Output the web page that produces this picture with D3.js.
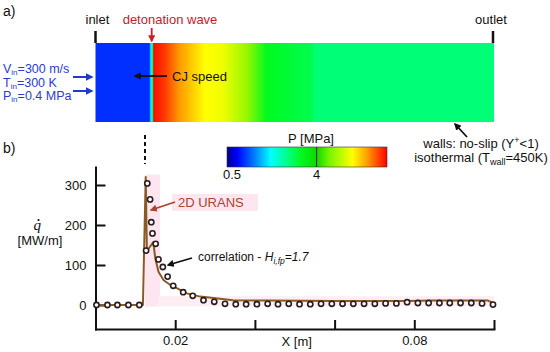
<!DOCTYPE html>
<html>
<head>
<meta charset="utf-8">
<script src="https://cdn.jsdelivr.net/npm/d3@7.9.0/dist/d3.min.js"></script>
<style>
  body { margin: 0; background: #fff; }
  svg { display: block; font-family: "Liberation Sans", Arial, sans-serif; }
</style>
</head>
<body>
<svg id="chart" width="550" height="352"></svg>
<script>
// 2D URANS heat flux along the wall (x in m, q in MW/m)
const uransX = [0.00025, 0.0119, 0.0126, 0.0129, 0.0145, 0.015, 0.0158, 0.0171, 0.0188, 0.0204,
  0.0229, 0.0263, 0.0345, 0.043, 0.06, 0.078, 0.085, 0.0985, 0.09975];
const uransQ = [0, 0, 320, 135, 157, 117, 83, 62, 50, 42, 29, 21, 12, 11, 10, 10, 11, 11, 5];

// correlation points, H_i,fp = 1.7
const corrX = [0.00025, 0.003, 0.0055, 0.00825, 0.011, 0.0127, 0.013, 0.0137, 0.014, 0.0143,
  0.0151, 0.0158, 0.0169, 0.0181, 0.0195, 0.022, 0.0244, 0.0271, 0.0298, 0.0325,
  0.0352, 0.0378, 0.0405, 0.0432, 0.0458, 0.0485, 0.0512, 0.0539, 0.0566, 0.0593,
  0.062, 0.0647, 0.0674, 0.0701, 0.0728, 0.0755, 0.0782, 0.0809, 0.0836, 0.0863,
  0.0889, 0.0916, 0.0943, 0.097, 0.09975];
const corrQ = [0, 0, 0, 0, 0, 136, 304, 264, 207, 179,
  153, 114, 95, 71, 48, 32, 23, 12, 8, 3,
  2, 2, 2, 3, 2, 3, 2, 2, 3, 3,
  3, 3, 3, 3, 4, 4, 7, 5, 5, 5,
  5, 5, 5, 4, 1];

const xTicks = [0.02, 0.04, 0.06, 0.08, 0.1];
const xLabelled = [0.02, 0.08];
const yTicks = [0, 100, 200, 300];

// pressure along the channel in panel a) (x in m, P in MPa)
const fieldX = [0, 0.0135, 0.0139, 0.0143, 0.0146, 0.0175, 0.021, 0.0275, 0.032, 0.038, 0.043, 0.0545, 0.0548, 0.1];
const fieldP = [1.15, 1.15, 2.2, 3.0, 6.7, 6.45, 6.0, 5.4, 5.3, 4.7, 3.4, 3.15, 2.95, 2.95];

// colour bar P [MPa]
const cbP = [0.5, 0.9, 1.5, 2.2, 2.9, 3.4, 4.0, 4.5, 5.4, 6.0, 6.75];
const cbColors = ['#00008a', '#0000ff', '#0070ff', '#00ffff', '#00ff80', '#00fa20',
  '#10d800', '#78f500', '#ffff00', '#ff9900', '#ff0000'];
const cbTicks = [0.5, 4];

const svg = d3.select('#chart');
const defs = svg.append('defs');

const x = d3.scaleLinear().domain([0, 0.1]).range([95.5, 494]);
const y = d3.scaleLinear().domain([-60, 345]).range([329, 167]);
const pColor = d3.scaleLinear().domain(cbP).range(cbColors).clamp(true);
const cb = d3.scaleLinear().domain([0.5, 6.75]).range([227, 387]);

// arrow heads
function headMarker(id, color) {
    defs.append('marker')
        .attr('id', id)
        .attr('viewBox', '0 0 10 10')
        .attr('refX', 8).attr('refY', 5)
        .attr('markerWidth', 4).attr('markerHeight', 4)
        .attr('orient', 'auto')
        .append('path').attr('d', 'M0,0L10,5L0,10z').attr('fill', color);
}
headMarker('ah-k', '#111');
headMarker('ah-b', '#1f3ccf');
headMarker('ah-r', '#c8202a');
headMarker('ah-br', '#a8452e');

function arrow(x1, y1, x2, y2, color, id, w) {
    svg.append('line')
        .attr('x1', x1).attr('y1', y1).attr('x2', x2).attr('y2', y2)
        .attr('stroke', color).attr('stroke-width', w || 1.8)
        .attr('marker-end', `url(#${id})`);
}

function label(tx, ty, str, opts = {}) {
    return svg.append('text')
        .attr('x', tx).attr('y', ty)
        .attr('font-size', opts.size || 13)
        .attr('fill', opts.color || '#111')
        .attr('text-anchor', opts.anchor || 'start')
        .text(str);
}

// ---------- panel a) ----------
label(3, 16, 'a)', { size: 14 });

let fieldGrad = defs.append('linearGradient').attr('id', 'field')
    .attr('gradientUnits', 'userSpaceOnUse')
    .attr('x1', x(0)).attr('x2', x(0.1)).attr('y1', 0).attr('y2', 0);
fieldX.forEach((fx, i) => {
    fieldGrad.append('stop')
        .attr('offset', fx / 0.1)
        .attr('stop-color', pColor(fieldP[i]));
});
svg.append('rect')
    .attr('x', x(0)).attr('y', 43)
    .attr('width', x(0.1) - x(0)).attr('height', 79)
    .attr('fill', 'url(#field)');

// inlet / outlet markers
label(x(0) - 10, 24, 'inlet');
svg.append('line').attr('x1', x(0)).attr('x2', x(0)).attr('y1', 31).attr('y2', 43)
    .attr('stroke', '#111').attr('stroke-width', 2.5);
label(x(0.1) - 3, 24, 'outlet', { anchor: 'middle' });
svg.append('line').attr('x1', x(0.1) - 1).attr('x2', x(0.1) - 1).attr('y1', 31).attr('y2', 43)
    .attr('stroke', '#111').attr('stroke-width', 2.5);

// detonation wave
label(170, 24, 'detonation wave', { anchor: 'middle', color: '#c8202a' });
arrow(151.7, 28, 151.7, 41, '#c8202a', 'ah-r', 1.8);

// CJ speed
label(172, 81, 'CJ speed');
arrow(167, 76, 135, 76, '#111', 'ah-k', 1.8);

// inflow conditions
const inflow = [['V', '=300 m/s', 73], ['T', '=300 K', 86.5], ['P', '=0.4 MPa', 100]];
inflow.forEach(([sym, rest, by]) => {
    const t = svg.append('text').attr('x', 3).attr('y', by)
        .attr('font-size', 12.5).attr('fill', '#2a3bd1');
    t.append('tspan').text(sym);
    t.append('tspan').attr('font-size', 8).attr('dy', 2).text('in');
    t.append('tspan').attr('dy', -2).text(rest);
});
arrow(73, 77, 92, 77, '#1f3ccf', 'ah-b', 2);
arrow(73, 91, 92, 91, '#1f3ccf', 'ah-b', 2);

// walls note
arrow(467, 137, 455, 124, '#111', 'ah-k', 1.8);
const w1 = svg.append('text').attr('x', 481).attr('y', 148).attr('font-size', 13)
    .attr('text-anchor', 'middle').attr('fill', '#111');
w1.append('tspan').text('walls: no-slip (Y');
w1.append('tspan').attr('font-size', 9).attr('dy', -5).text('+');
w1.append('tspan').attr('dy', 5).text('<1)');
const w2 = svg.append('text').attr('x', 481).attr('y', 162).attr('font-size', 13)
    .attr('text-anchor', 'middle').attr('fill', '#111');
w2.append('tspan').text('isothermal (T');
w2.append('tspan').attr('font-size', 9).attr('dy', 3).text('wall');
w2.append('tspan').attr('dy', -3).text('=450K)');

// colour bar
let cbGrad = defs.append('linearGradient').attr('id', 'cbar');
cbP.forEach((p, i) => {
    cbGrad.append('stop')
        .attr('offset', (cb(p) - cb.range()[0]) / (cb.range()[1] - cb.range()[0]))
        .attr('stop-color', cbColors[i]);
});
svg.append('rect')
    .attr('x', cb.range()[0]).attr('y', 147)
    .attr('width', cb.range()[1] - cb.range()[0]).attr('height', 20)
    .attr('fill', 'url(#cbar)').attr('stroke', '#333').attr('stroke-width', 0.6);
svg.append('line').attr('x1', cb(4)).attr('x2', cb(4)).attr('y1', 147).attr('y2', 167)
    .attr('stroke', '#222').attr('stroke-width', 1);
label(311, 143, 'P [MPa]', { anchor: 'middle' });
cbTicks.forEach((v) => {
    label(cb(v) + (v === 0.5 ? 5 : 0), 179, String(v), { anchor: 'middle' });
});

// ---------- panel b) ----------
label(3, 153, 'b)', { size: 14 });

// pink highlights behind the URANS curve
svg.append('rect')
    .attr('x', x(0.0124)).attr('y', y(326))
    .attr('width', x(0.0162) - x(0.0124)).attr('height', y(-4) - y(326))
    .attr('fill', '#fde6ef');
svg.append('rect')
    .attr('x', x(0.0158)).attr('y', y(22))
    .attr('width', x(0.1) - x(0.0158)).attr('height', y(-3) - y(22))
    .attr('fill', '#fdeef4');
svg.append('rect').attr('x', 172).attr('y', 194).attr('width', 86).attr('height', 17)
    .attr('fill', '#fde6ef');

// dashed wave position
svg.append('line').attr('x1', 145).attr('x2', 145).attr('y1', 135).attr('y2', 164)
    .attr('stroke', '#111').attr('stroke-width', 2).attr('stroke-dasharray', '4,3');

// axes
const yAxis = svg.append('g').attr('transform', `translate(${x(0)},0)`)
    .call(d3.axisLeft(y).tickValues(yTicks).tickSize(-10).tickSizeOuter(0).tickPadding(9));
const xAxis = svg.append('g').attr('transform', `translate(0,${y(-60)})`)
    .call(d3.axisBottom(x).tickValues(xTicks).tickSize(-9).tickSizeOuter(0).tickPadding(7)
        .tickFormat((d) => (xLabelled.includes(d) ? String(d) : '')));
[yAxis, xAxis].forEach((g) => {
    g.attr('font-family', null).attr('font-size', null);
    g.select('.domain').attr('stroke', '#111').attr('stroke-width', 2).attr('stroke-linecap', 'square');
    g.selectAll('.tick line').attr('stroke', '#111').attr('stroke-width', 2);
    g.selectAll('.tick text').attr('font-size', 13).attr('fill', '#111');
});
label(x(0.0505), 346, 'X [m]', { anchor: 'middle' });

// y label q-dot
svg.append('text').attr('x', 33.5).attr('y', 230)
    .attr('font-family', '"Liberation Serif", serif').attr('font-style', 'italic')
    .attr('font-size', 15).attr('fill', '#111').text('q');
svg.append('circle').attr('cx', 38.5).attr('cy', 220).attr('r', 1.1).attr('fill', '#111');
label(40, 245, '[MW/m]', { anchor: 'middle' });

// URANS curve
const line = d3.line().x((d) => x(d[0])).y((d) => y(d[1]));
svg.append('path')
    .datum(uransX.map((v, i) => [v, uransQ[i]]))
    .attr('d', line)
    .attr('fill', 'none')
    .attr('stroke', '#8a5a26')
    .attr('stroke-width', 2)
    .attr('stroke-linejoin', 'round');

// correlation markers
svg.append('g').selectAll('circle')
    .data(corrX.map((v, i) => [v, corrQ[i]]))
    .join('circle')
    .attr('cx', (d) => x(d[0]))
    .attr('cy', (d) => y(d[1]))
    .attr('r', 2.6)
    .attr('fill', '#fff')
    .attr('stroke', '#2b1d1d')
    .attr('stroke-width', 1.6);

// annotations
label(178, 207, '2D URANS', { color: '#a8452e' });
arrow(175, 202, 151, 210, '#a8452e', 'ah-br', 1.8);

const corr = svg.append('text').attr('x', 198).attr('y', 261).attr('font-size', 12).attr('fill', '#111');
corr.append('tspan').text('correlation  -  ');
corr.append('tspan').attr('font-style', 'italic').text('H');
corr.append('tspan').attr('font-style', 'italic').attr('font-size', 8.5).attr('dy', 3).text('i,fp');
corr.append('tspan').attr('font-style', 'italic').attr('dy', -3).text('=1.7');
arrow(192, 258, 168, 265, '#111', 'ah-k', 1.8);
</script>
</body>
</html>
